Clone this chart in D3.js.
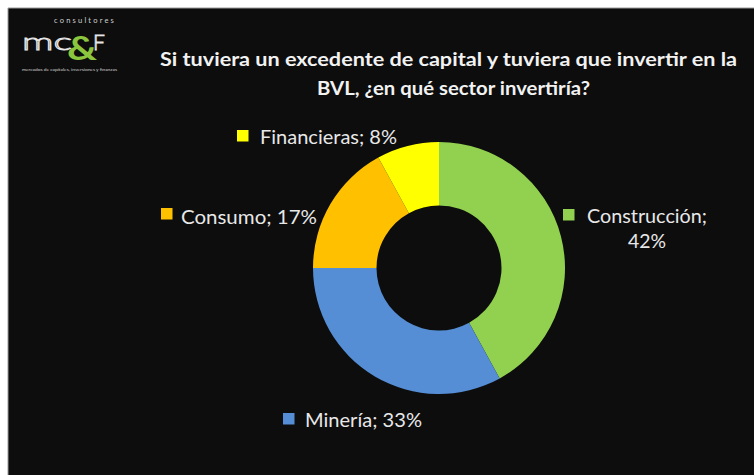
<!DOCTYPE html>
<html>
<head>
<meta charset="utf-8">
<script src="https://cdn.jsdelivr.net/npm/d3@7"></script>
<style>
  html, body { margin: 0; padding: 0; background: #ffffff; }
  svg { display: block; }
</style>
</head>
<body>
<svg id="chart" width="754" height="475"></svg>
<script>
// Survey results: preferred BVL sector to invest in
const sectors = ["Construcción", "Minería", "Consumo", "Financieras"];
const shares = [42, 33, 17, 8];
const colors = ["#92d050", "#558ed5", "#ffc000", "#ffff00"];
const titleLines = [
  "Si tuviera un excedente de capital y tuviera que invertir en la",
  "BVL, ¿en qué sector invertiría?"
];

const svg = d3.select("#chart");
const W = 754, H = 475;
const font = "Lato, 'Open Sans', sans-serif";

// slide panel
svg.append("rect").attr("x", 8).attr("y", 8).attr("width", W - 8).attr("height", H - 8)
  .attr("fill", "#0d0d0d");
svg.append("line").attr("x1", 8).attr("y1", 8).attr("x2", W).attr("y2", 8)
  .attr("stroke", "#9a9a9a").attr("stroke-width", 1);
svg.append("line").attr("x1", 8).attr("y1", 8).attr("x2", 8).attr("y2", H)
  .attr("stroke", "#9a9a9a").attr("stroke-width", 1);

// brand mark
const logo = svg.append("g").attr("font-family", font);
logo.append("text").attr("x", 54).attr("y", 23).attr("font-size", 7.5)
  .attr("letter-spacing", 2.2).attr("fill", "#cfcfcf").text("consultores");
logo.append("text").attr("x", 22).attr("y", 50).attr("font-size", 24)
  .attr("font-weight", 300).attr("fill", "none").attr("stroke", "#e6e6e6").attr("stroke-width", 0.9)
  .attr("textLength", 50).attr("lengthAdjust", "spacingAndGlyphs").text("mc");
logo.append("text").attr("x", 93).attr("y", 50).attr("font-size", 21)
  .attr("font-weight", 300).attr("fill", "none").attr("stroke", "#e6e6e6").attr("stroke-width", 0.9)
  .text("F");
logo.append("text").attr("x", 67).attr("y", 60).attr("font-size", 32)
  .attr("font-weight", 700).attr("fill", "#8cc63f")
  .attr("textLength", 30).attr("lengthAdjust", "spacingAndGlyphs").text("&");
logo.append("text").attr("x", 22).attr("y", 71).attr("font-size", 4.2)
  .attr("fill", "#d0d0d0").attr("textLength", 95).attr("lengthAdjust", "spacingAndGlyphs")
  .text("mercados de capitales, inversiones y finanzas");

// title
const titleG = svg.append("g").attr("font-family", font).attr("font-weight", 700)
  .attr("font-size", 19.5).attr("fill", "#f2f2f2").attr("text-anchor", "middle");
titleG.append("text").attr("x", 448.5).attr("y", 66)
  .attr("textLength", 577).attr("lengthAdjust", "spacingAndGlyphs").text(titleLines[0]);
titleG.append("text").attr("x", 453.5).attr("y", 95)
  .attr("textLength", 273).attr("lengthAdjust", "spacingAndGlyphs").text(titleLines[1]);

// donut
const cx = 439, cy = 268, rOuter = 126, rInner = 62.5;
const data = sectors.map((s, i) => ({ sector: s, value: shares[i], color: colors[i] }));
const pie = d3.pie().value(d => d.value).sort(null);
const arc = d3.arc().innerRadius(rInner).outerRadius(rOuter);
const g = svg.append("g").attr("transform", `translate(${cx},${cy})`);
g.selectAll("path").data(pie(data)).join("path")
  .attr("d", arc).attr("fill", d => d.data.color);

// data labels: legend key square + "name; value%"
const labelSpec = {
  "Construcción": { sx: 563, sy: 209, lines: [{ x: 587, y: 223, w: 120, anchor: "start", t: d => d.sector + ";" },
                                                { x: 647, y: 248, w: 38, anchor: "middle", t: d => d.value + "%" }] },
  "Minería": { sx: 283, sy: 413, lines: [{ x: 305, y: 427, w: 117, anchor: "start", t: d => d.sector + "; " + d.value + "%" }] },
  "Consumo": { sx: 161, sy: 208, lines: [{ x: 181, y: 224, w: 136, anchor: "start", t: d => d.sector + "; " + d.value + "%" }] },
  "Financieras": { sx: 237, sy: 130, lines: [{ x: 260, y: 144, w: 137, anchor: "start", t: d => d.sector + "; " + d.value + "%" }] }
};
const lg = svg.append("g").attr("font-family", font).attr("font-size", 19).attr("fill", "#e8e8e8");
data.forEach(d => {
  const spec = labelSpec[d.sector];
  lg.append("rect").attr("x", spec.sx).attr("y", spec.sy).attr("width", 11.5).attr("height", 11.5)
    .attr("fill", d.color);
  spec.lines.forEach(l => {
    lg.append("text").attr("x", l.x).attr("y", l.y).attr("text-anchor", l.anchor)
      .attr("textLength", l.w).attr("lengthAdjust", "spacingAndGlyphs").text(l.t(d));
  });
});
</script>
</body>
</html>
